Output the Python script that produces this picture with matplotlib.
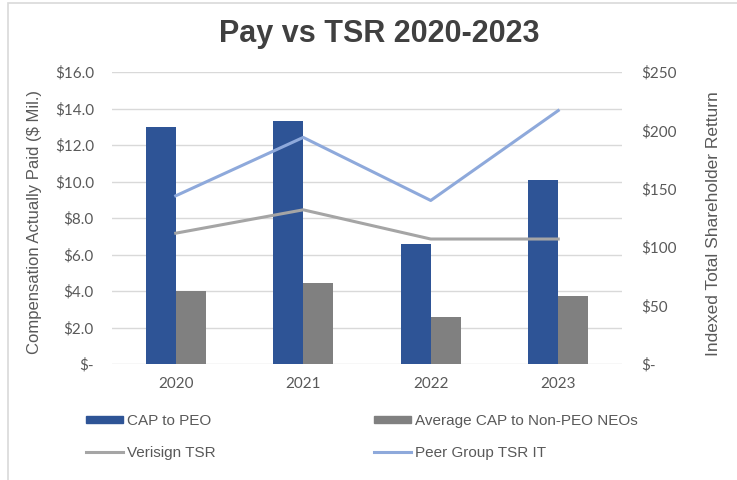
import matplotlib.pyplot as plt
from matplotlib.patches import Rectangle, Patch
from matplotlib.lines import Line2D
from matplotlib.ticker import FuncFormatter

# Data
years = ['2020', '2021', '2022', '2023']
cap_peo = [13.0, 13.3, 6.6, 10.1]
cap_non_peo = [4.0, 4.45, 2.6, 3.75]
verisign_tsr = [112, 132, 107, 107]
peer_tsr = [144, 194, 140, 217]

blue = '#2E5496'
gray_bar = '#808080'
gray_line = '#A5A5A5'
blue_line = '#8EA9DB'
text_col = '#595959'

plt.rcParams['font.family'] = ['Liberation Sans', 'DejaVu Sans']

fig = plt.figure(figsize=(7.37, 4.8), dpi=100)
ax1 = fig.add_axes([112 / 737, 1 - 364 / 480, 510 / 737, 292 / 480])
ax2 = ax1.twinx()

x = list(range(len(years)))
w = 0.235
ax1.bar([i - w / 2 for i in x], cap_peo, width=w, color=blue, zorder=3)
ax1.bar([i + w / 2 for i in x], cap_non_peo, width=w, color=gray_bar, zorder=3)

ax2.plot(x, verisign_tsr, color=gray_line, lw=2.2, zorder=4)
ax2.plot(x, peer_tsr, color=blue_line, lw=2.2, zorder=4)

ax1.set_xlim(-0.5, 3.5)
ax1.set_ylim(0, 16)
ax1.set_yticks(range(0, 17, 2))
ax1.yaxis.set_major_formatter(FuncFormatter(lambda v, p: '$-' if v == 0 else f'${v:.1f}'))
ax2.set_ylim(0, 250)
ax2.set_yticks(range(0, 251, 50))
ax2.yaxis.set_major_formatter(FuncFormatter(lambda v, p: '$-' if v == 0 else f'${v:.0f}'))

ax1.set_xticks(x)
ax1.set_xticklabels(years)
ax1.grid(axis='y', color='#D9D9D9', lw=1, zorder=0)
ax1.set_axisbelow(True)

for ax in (ax1, ax2):
    for s in ax.spines.values():
        s.set_visible(False)
ax1.tick_params(axis='y', length=0, pad=13, labelsize=11, labelcolor=text_col, labelfontfamily='Lato')
ax1.tick_params(axis='x', length=0, pad=9, labelsize=11, labelcolor=text_col, labelfontfamily='Lato')
ax2.tick_params(axis='y', length=0, pad=14, labelsize=11, labelcolor=text_col, labelfontfamily='Lato')

fig.text(35 / 737, 1 - 222 / 480, 'Compensation Actually Paid ($ Mil.)', rotation=90,
         ha='center', va='center', fontsize=12, color=text_col)
fig.text(713 / 737, 1 - 224 / 480, 'Indexed Total Shareholder Retturn', rotation=90,
         ha='center', va='center', fontsize=12.5, color=text_col)

fig.text(379 / 737, 1 - 34 / 480, 'Pay vs TSR 2020-2023', ha='center', va='center',
         fontsize=22, fontweight='bold', color='#404040')

# legends, one per column
h1 = [Patch(color=blue), Line2D([], [], color=gray_line, lw=2.2)]
h2 = [Patch(color=gray_bar), Line2D([], [], color=blue_line, lw=2.2)]
leg_kw = dict(loc='upper left', frameon=False, fontsize=11, labelcolor=text_col,
              handlelength=2.4, handleheight=0.35, handletextpad=0.3, labelspacing=1.15,
              borderaxespad=0, borderpad=0)
fig.legend(h1, ['CAP to PEO', 'Verisign TSR'], bbox_to_anchor=(86 / 737, 1 - 414 / 480), **leg_kw)
fig.legend(h2, ['Average CAP to Non-PEO NEOs', 'Peer Group TSR IT'],
           bbox_to_anchor=(374 / 737, 1 - 414 / 480), **leg_kw)

# light frame around the chart area
fig.add_artist(Rectangle((8 / 737, -0.1), 1.2, 1.1 - 3 / 480, transform=fig.transFigure,
                         fill=False, edgecolor='#D9D9D9', lw=1.2))

fig.savefig('out.png', dpi=100)
